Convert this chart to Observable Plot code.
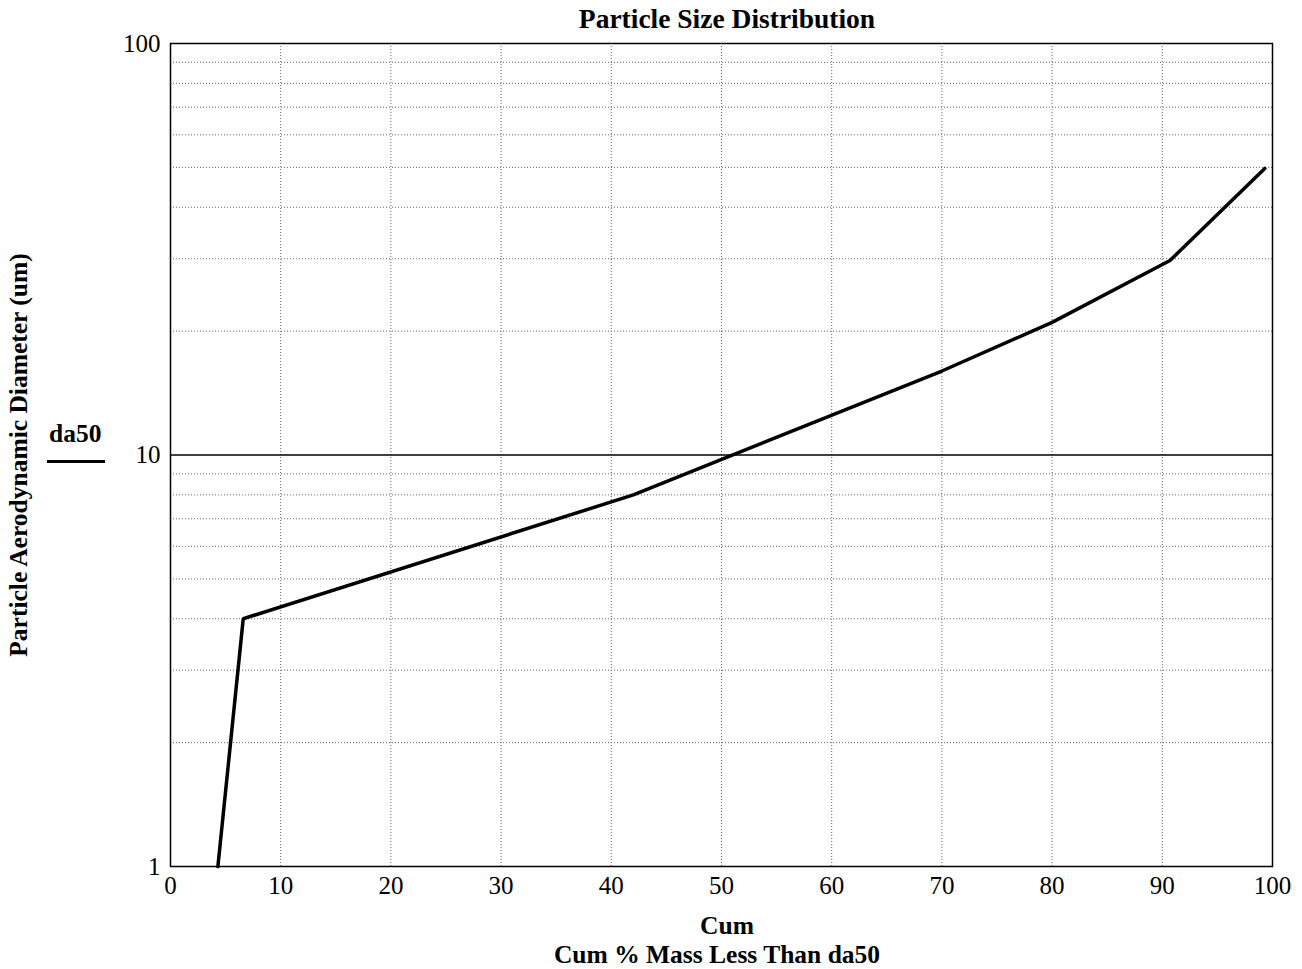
<!DOCTYPE html>
<html>
<head>
<meta charset="utf-8">
<script src="https://cdn.jsdelivr.net/npm/d3@7"></script>
<script src="https://cdn.jsdelivr.net/npm/@observablehq/plot@0.6"></script>
<style>
  body { margin: 0; background: #fff; font-family: "Liberation Serif", "Times New Roman", serif; }
  #wrap { position: relative; width: 1302px; height: 969px; }
  #chart { position: absolute; left: 0; top: 0; }
  .lbl { position: absolute; font-weight: bold; color: #000; white-space: nowrap; }
  #title { top: 3px; left: 170px; width: 1114px; text-align: center; font-size: 27.5px; line-height: 32px; }
  #xlab1 { top: 911px; left: 170px; width: 1114px; text-align: center; font-size: 25.5px; line-height: 29px; }
  #xlab2 { top: 940px; left: 170px; width: 1094px; text-align: center; font-size: 25.5px; line-height: 29px; }
  #legtxt { top: 419px; left: 49px; font-size: 25.5px; line-height: 30px; }
  #legline { position: absolute; left: 47px; top: 460px; width: 58px; height: 0; border-top: 3px solid #000; }
</style>
</head>
<body>
<div id="wrap">
  <div id="chart"></div>
  <div class="lbl" id="title">Particle Size Distribution</div>
  <div class="lbl" id="xlab1">Cum</div>
  <div class="lbl" id="xlab2">Cum % Mass Less Than da50</div>
  <div class="lbl" id="legtxt">da50</div>
  <div id="legline"></div>
</div>
<script>
// Cumulative % mass less than (x) vs particle aerodynamic diameter (um)
const cumPercent = [4.3, 6.6, 42, 70, 80, 90.7, 99.3];
const diameter   = [1.0, 4.0, 8.0, 16.0, 21.0, 29.7, 49.7];
const da50 = 10;
const xTicks = [0, 10, 20, 30, 40, 50, 60, 70, 80, 90, 100];
const yTicks = [1, 10, 100];
const yMinorGrid = [2, 3, 4, 5, 6, 7, 8, 9, 20, 30, 40, 50, 60, 70, 80, 90];
const yLabel = "Particle Aerodynamic Diameter (um)";

const data = cumPercent.map((c, i) => ({cum: c, d: diameter[i]}));

const chart = Plot.plot({
  width: 1302,
  height: 969,
  marginLeft: 170,
  marginRight: 30,
  marginTop: 43,
  marginBottom: 103,
  style: {fontFamily: '"Liberation Serif", "Times New Roman", serif', fontSize: "25px", color: "#000", background: "#fff"},
  x: {domain: [0, 100], ticks: xTicks, tickSize: 0, tickPadding: 10, label: null},
  y: {type: "log", domain: [1, 100], ticks: yTicks, tickFormat: d => String(d), tickSize: 0, tickPadding: 10, label: null},
  marks: [
    Plot.ruleX(xTicks.slice(1, -1), {stroke: "#666", strokeWidth: 1, strokeDasharray: "1,2"}),
    Plot.ruleY(yMinorGrid, {stroke: "#666", strokeWidth: 1, strokeDasharray: "1,2"}),
    Plot.ruleY([da50], {stroke: "#000", strokeWidth: 1.5}),
    Plot.frame({stroke: "#000", strokeWidth: 1.5}),
    Plot.line(data, {x: "cum", y: "d", stroke: "#000", strokeWidth: 3.5, strokeLinejoin: "miter"}),
    Plot.text([yLabel], {text: d => d, frameAnchor: "left", textAnchor: "middle", rotate: -90, dx: -152, fontWeight: "bold", fontSize: 25.5})
  ]
});
document.getElementById("chart").appendChild(chart);
</script>
</body>
</html>
